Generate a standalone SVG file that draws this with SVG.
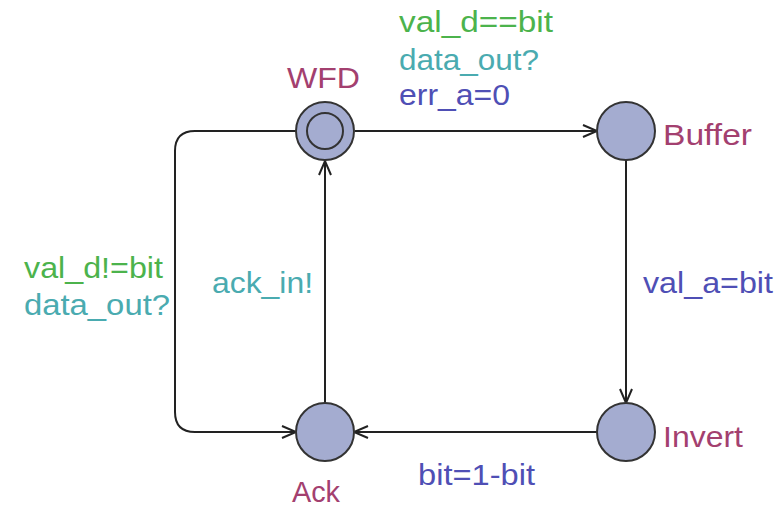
<svg xmlns="http://www.w3.org/2000/svg" width="782" height="507" viewBox="0 0 782 507">
  <defs>
    <marker id="open" markerWidth="20" markerHeight="16" viewBox="-16 -8 20 16" refX="0" refY="0" orient="auto" markerUnits="userSpaceOnUse">
      <path d="M-14,-6 L0,0 L-14,6" fill="none" stroke="#222" stroke-width="2"/>
    </marker>
  </defs>
  <style>
    text { font-family: "Liberation Sans", Arial, sans-serif; font-size: 29px; }
    .loc { fill: #a4acd0; stroke: #333; stroke-width: 2; }
    .edge { fill: none; stroke: #222; stroke-width: 2; marker-end: url(#open); }
    .name { fill: #a3406f; }
    .guard { fill: #4cb34c; }
    .sync { fill: #4aabb0; }
    .assign { fill: #4f4fb5; }
  </style>
  <rect width="782" height="507" fill="#ffffff"/>

  <g id="connectors">
    <path class="edge" d="M355,131 L597,131"/>
    <path class="edge" d="M626,160 L626,403"/>
    <path class="edge" d="M597,432 L354,432"/>
    <path class="edge" d="M325,403 L325,161"/>
    <path class="edge" d="M296,131 L195,131 Q175,131 175,151 L175,412 Q175,432 195,432 L296,432"/>
  </g>

  <g id="edge-labels">
    <text class="guard" x="399" y="32" textLength="154" lengthAdjust="spacingAndGlyphs">val_d==bit</text>
    <text class="sync" x="399" y="70" textLength="140" lengthAdjust="spacingAndGlyphs">data_out?</text>
    <text class="assign" x="399" y="105" textLength="111" lengthAdjust="spacingAndGlyphs">err_a=0</text>
    <text class="assign" x="643" y="293" textLength="130" lengthAdjust="spacingAndGlyphs">val_a=bit</text>
    <text class="assign" x="418" y="485" textLength="117" lengthAdjust="spacingAndGlyphs">bit=1-bit</text>
    <text class="sync" x="212" y="293" textLength="101" lengthAdjust="spacingAndGlyphs">ack_in!</text>
    <text class="guard" x="24" y="278" textLength="139" lengthAdjust="spacingAndGlyphs">val_d!=bit</text>
    <text class="sync" x="24" y="315" textLength="146" lengthAdjust="spacingAndGlyphs">data_out?</text>
  </g>

  <g id="WFD">
    <circle class="loc" cx="325" cy="131" r="29"/>
    <circle class="loc" cx="325" cy="131" r="18"/>
    <text class="name" x="287" y="88" textLength="73" lengthAdjust="spacingAndGlyphs">WFD</text>
  </g>
  <g id="Buffer">
    <circle class="loc" cx="626" cy="131" r="29"/>
    <text class="name" x="663" y="145" textLength="89" lengthAdjust="spacingAndGlyphs">Buffer</text>
  </g>
  <g id="Invert">
    <circle class="loc" cx="626" cy="432" r="29"/>
    <text class="name" x="663" y="447" textLength="80" lengthAdjust="spacingAndGlyphs">Invert</text>
  </g>
  <g id="Ack">
    <circle class="loc" cx="325" cy="432" r="29"/>
    <text class="name" x="292" y="502" textLength="48" lengthAdjust="spacingAndGlyphs">Ack</text>
  </g>
</svg>
